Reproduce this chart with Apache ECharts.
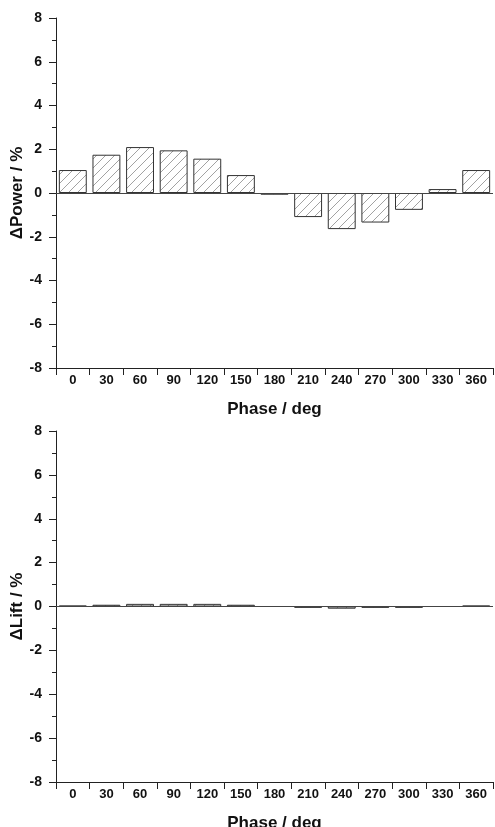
<!DOCTYPE html>
<html>
<head>
<meta charset="utf-8">
<script src="https://cdn.jsdelivr.net/npm/echarts@6/dist/echarts.min.js"></script>
<style>
html,body{margin:0;padding:0;background:#fff;}
#c{width:495px;height:827px;}
</style>
</head>
<body>
<div id="c"></div>
<script>
const phases = ['0','30','60','90','120','150','180','210','240','270','300','330','360'];
const powerValues = [1.05, 1.75, 2.1, 1.95, 1.57, 0.82, -0.08, -1.1, -1.65, -1.35, -0.77, 0.18, 1.05];
const liftValues = [0.04, 0.08, 0.12, 0.12, 0.12, 0.08, 0, -0.06, -0.1, -0.06, -0.06, 0, 0.04];
const yTicks = [-8, -6, -4, -2, 0, 2, 4, 6, 8];
const xTitle = 'Phase / deg';
const yTitles = ['\u0394Power / %', '\u0394Lift / %'];

function hatch() {
  const s = 9;
  const cv = document.createElement('canvas');
  cv.width = s; cv.height = s;
  const ctx = cv.getContext('2d');
  ctx.fillStyle = '#ffffff';
  ctx.fillRect(0, 0, s, s);
  ctx.strokeStyle = '#8a8a8a';
  ctx.lineWidth = 0.8;
  ctx.beginPath();
  ctx.moveTo(0, s); ctx.lineTo(s, 0);
  ctx.moveTo(-1, 1); ctx.lineTo(1, -1);
  ctx.moveTo(s - 1, s + 1); ctx.lineTo(s + 1, s - 1);
  ctx.stroke();
  return cv;
}
const pattern = { image: hatch(), repeat: 'repeat' };

const font = 'Liberation Sans, Arial, sans-serif';
const grids = [
  { left: 56, top: 18, width: 437, height: 350, containLabel: false, outerBoundsMode: 'none' },
  { left: 56, top: 431, width: 437, height: 351, containLabel: false, outerBoundsMode: 'none' }
];

function xAx(i) {
  return {
    type: 'category', gridIndex: i, data: phases,
    position: 'bottom',
    axisLine: { onZero: false, lineStyle: { color: '#222', width: 1 } },
    axisTick: { show: true, length: 7, lineStyle: { color: '#222' } },
    axisLabel: { interval: 0, color: '#111', fontFamily: font, fontWeight: 'bold', fontSize: 13, margin: 6 },
    name: xTitle, nameLocation: 'middle', nameGap: 33, nameMoveOverlap: false,
    nameTextStyle: { color: '#111', fontFamily: font, fontWeight: 'bold', fontSize: 17 }
  };
}
function yAx(i) {
  return {
    type: 'value', gridIndex: i, min: yTicks[0], max: yTicks[yTicks.length - 1], interval: 2,
    axisLine: { show: true, lineStyle: { color: '#222', width: 1 } },
    axisTick: { show: true, length: 7, lineStyle: { color: '#222' } },
    minorTick: { show: true, splitNumber: 2, length: 4, lineStyle: { color: '#222' } },
    splitLine: { show: false },
    axisLabel: { color: '#111', fontFamily: font, fontWeight: 'bold', fontSize: 14, margin: 14 },
    name: yTitles[i], nameLocation: 'middle', nameGap: 30, nameRotate: 90, nameMoveOverlap: false,
    nameTextStyle: { color: '#111', fontFamily: font, fontWeight: 'bold', fontSize: 17 }
  };
}
function ser(i, vals) {
  return {
    type: 'bar', xAxisIndex: i, yAxisIndex: i, data: vals,
    barCategoryGap: '17%',
    itemStyle: { color: pattern, borderColor: '#333', borderWidth: 1 },
    markLine: {
      silent: true, symbol: 'none', animation: false,
      label: { show: false },
      lineStyle: { color: '#444', width: 1, type: 'solid' },
      data: [{ yAxis: 0 }]
    }
  };
}

const chart = echarts.init(document.getElementById('c'));
chart.setOption({
  animation: false,
  backgroundColor: '#fff',
  grid: grids,
  xAxis: [xAx(0), xAx(1)],
  yAxis: [yAx(0), yAx(1)],
  series: [ser(0, powerValues), ser(1, liftValues)]
});
</script>
</body>
</html>
